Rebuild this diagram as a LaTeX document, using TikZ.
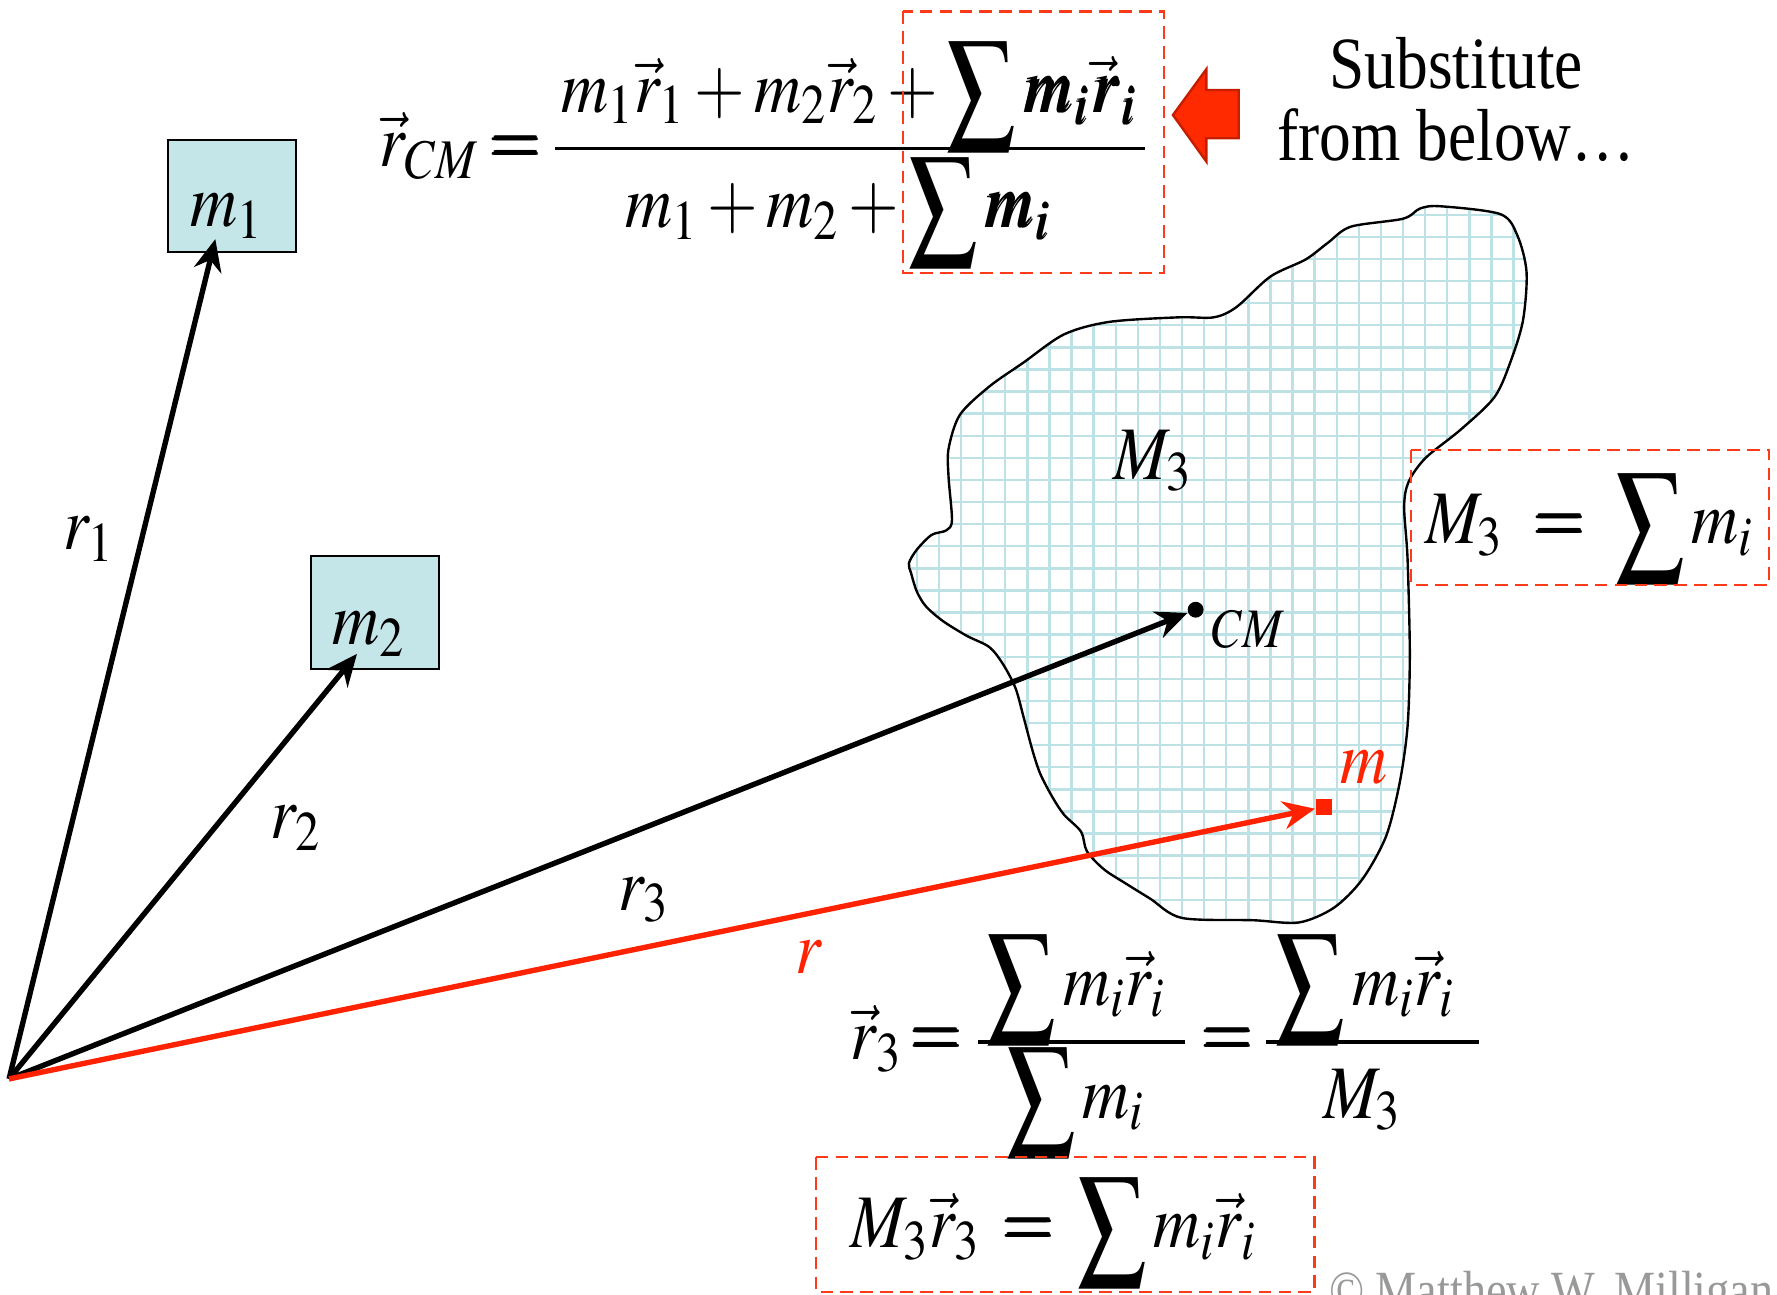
\documentclass[tikz,border=0pt]{standalone}
\usepackage{mathptmx}
\usepackage{bm}
\usepackage{fontspec}
\setmainfont[FakeStretch=0.86]{Liberation Serif}
\usetikzlibrary{arrows.meta}
\definecolor{massfill}{HTML}{C5E6E8}
\definecolor{gridcyan}{HTML}{BDE2E5}
\definecolor{dashred}{HTML}{FF3A1A}
\definecolor{vecred}{HTML}{FF2200}
\definecolor{bigred}{HTML}{FF2A00}
\definecolor{bigreddark}{HTML}{C41E00}
\newcommand{\nar}[1]{\scalebox{0.86}[1]{#1}}
\newcommand{\bsum}{\mathop{\raisebox{-1.6pt}{\scalebox{1.04}[1.17]{$\displaystyle\sum$}}}\nolimits}
\tikzset{
    eq/.style={inner sep=0pt, font=\fontsize{19}{22}\selectfont},
    massbox/.style={draw, line width=0.5pt, fill=massfill, minimum width=11.3mm, minimum height=9.9mm, inner sep=0pt},
    vec/.style={->, line width=1.35pt},
    redbox/.style={draw=dashred, line width=0.6pt, dash pattern=on 3.2pt off 1.8pt},
    gridline/.style={gridcyan, line width=0.6pt},
    bar/.style={line width=0.85pt}
}

\begin{document}
\begin{tikzpicture}[>={Stealth[length=8pt,width=7pt]}, x=0.1mm, y=-0.1mm]
    \useasboundingbox (0,0) rectangle (1568,1142);

    % Vat the M3 co luoi
    \draw[line width=0.6pt, path picture={
        \foreach \gx in {789.5,809,...,1360} {\draw[gridline] (\gx,170) -- (\gx,830);}
        \foreach \gy in {170,189.5,...,830} {\draw[gridline] (780,\gy) -- (1360,\gy);}
    }] plot[smooth cycle, tension=0.5] coordinates {
        (1253,184) (1271,182) (1324,189) (1339,208) (1347,240) (1344,282)
        (1334,316) (1319,350) (1289,379) (1258,404) (1243,425) (1239,447)
        (1242,493) (1244,577) (1242,641) (1235,691) (1223,738) (1202,776)
        (1177,801) (1146,814) (1106,812) (1043,810) (1015,793) (994,780)
        (974,767) (959,751) (954,734) (939,719) (929,704) (918,683)
        (911,662) (903,632) (896,607) (885,586) (873,571) (853,561)
        (832,548) (817,535) (809,522) (804,506) (802,497) (809,485)
        (822,472) (835,468) (840,459) (837,421) (837,396) (847,366)
        (873,341) (903,320) (939,295) (979,284) (1040,280) (1071,280)
        (1091,271) (1121,244) (1152,229) (1172,214) (1192,200) (1238,193)};
    \node[eq, anchor=base west] (M3lab) at (982,423) {\nar{$M_3$}};

    % Cac khoi luong m1, m2
    \node[massbox] (m1) at (204.5,173) {};
    \node[massbox] (m2) at (331,540.5) {};
    \node[eq, anchor=base west] (m1lab) at (167,200) {\nar{$m_1$}};
    \node[eq, anchor=base west] (m2lab) at (293,569) {\nar{$m_2$}};

    % Goc toa do, khoi tam, phan tu m
    \coordinate (O) at (8,952);
    \coordinate (t1) at (190,211);
    \coordinate (t2) at (315,577);
    \node[circle, fill, inner sep=0pt, minimum size=1.4mm] (cm) at (1055,538) {};
    \node[fill=vecred, inner sep=0pt, minimum size=1.4mm] (pm) at (1168,712) {};
    \node[eq, font=\fontsize{14}{16}\selectfont, anchor=base west] (cmlab) at (1069,571) {\nar{$CM$}};
    \node[eq, anchor=base west, text=vecred] (pmlab) at (1182,691) {\nar{$m$}};

    % Cac vecto vi tri
    \draw[vec] (O) -- (t1);
    \draw[vec] (O) -- (t2);
    \draw[vec] (O) -- (cm);
    \draw[vec, vecred] (O) -- (pm);
    \node[eq, anchor=base west] (r1lab) at (55,485) {\nar{$r_1$}};
    \node[eq, anchor=base west] (r2lab) at (238,740) {\nar{$r_2$}};
    \node[eq, anchor=base west] (r3lab) at (545,803) {\nar{$r_3$}};
    \node[eq, anchor=base west, text=vecred] (rlab) at (701,859) {\nar{$r$}};

    % Cong thuc khoi tam
    \node[eq, anchor=base west] (rcm) at (334,147) {\nar{$\vec r_{CM}$}};
    \node[eq] (eq1) at (455,133) {\nar{$\bm{=}$}};
    \node[eq, anchor=base west] (num) at (495,99) {\nar{$m_1\vec r_1+m_2\vec r_2+\bsum\bm{m_i\vec r_i}$}};
    \node[eq, anchor=base west] (den) at (551,201) {\nar{$m_1+m_2+\bsum\bm{m_i}$}};
    \draw[bar] (490,131) -- (1010,131);
    \draw[redbox] (797,10) rectangle (1027,241);

    % Mui ten do
    \fill[bigred, draw=bigreddark, line width=0.6pt] (1035,101.5) -- (1064.5,61) -- (1064.5,79.4)
        -- (1093,79.4) -- (1093,122) -- (1064.5,122) -- (1064.5,142.6) -- cycle;
    \node[eq, font=\fontsize{18.5}{20}\selectfont, anchor=base] (subst1) at (1285,78) {Substitute};
    \node[eq, font=\fontsize{18.5}{20}\selectfont, anchor=base] (subst2) at (1285,142) {from below\ldots};

    % M3 = tong mi
    \node[eq, anchor=base west] (M3sum) at (1257,480) {\nar{$M_3\;\bm{=}\;\bsum m_i$}};
    \draw[redbox] (1245,397) rectangle (1561,516);

    % Vecto r3
    \node[eq, anchor=base west] (r3vec) at (750,935) {\nar{$\vec r_3$}};
    \node[eq] (eq2) at (826,920) {\nar{$\bm{=}$}};
    \node[eq, anchor=base west] (num1) at (870,887) {\nar{$\bsum m_i\vec r_i$}};
    \node[eq, anchor=base west] (den1) at (887,987) {\nar{$\bsum m_i$}};
    \draw[bar] (863,919.5) -- (1046,919.5);
    \node[eq] (eq3) at (1083,920) {\nar{$\bm{=}$}};
    \node[eq, anchor=base west] (num2) at (1125,887) {\nar{$\bsum m_i\vec r_i$}};
    \node[eq, anchor=base west] (den2) at (1167,987) {\nar{$M_3$}};
    \draw[bar] (1117,919.5) -- (1305,919.5);

    % Ket qua
    \node[eq, anchor=base west] (res) at (750,1101) {\nar{$M_3\vec r_3\,\bm{=}\,\bsum m_i\vec r_i$}};
    \draw[redbox] (720,1021) rectangle (1160,1140);
    \node[eq, font=\fontsize{13.5}{15}\selectfont, anchor=base west, text=black!40] (copy) at (1172,1155) {\textcopyright{} Matthew W. Milligan};
\end{tikzpicture}
\end{document}
